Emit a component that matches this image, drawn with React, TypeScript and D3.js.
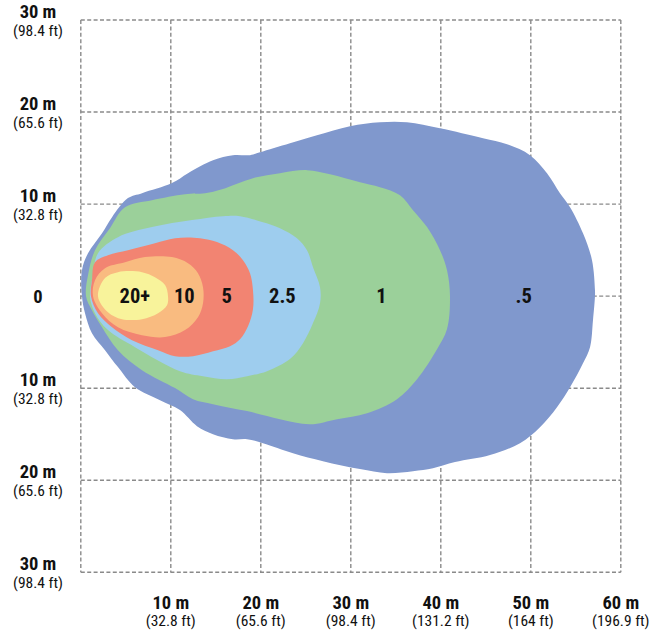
import React from "react";
import * as d3 from "d3";

// Contours: [distance (m), lateral offset (m)] around each outline
const contour05: [number, number][] = [
  [0.13, 0], [0.13, 2.82], [0.8, 4.67], [2.36, 6.84], [3.47, 8.58], [5.24, 10.65], [6.8, 11.19],
  [10.13, 12.28], [11.91, 13.36], [14.69, 14.77], [16.91, 15.32], [18.8, 15.32], [19.91, 15.64],
  [23.24, 16.62], [26.24, 17.49], [29.91, 18.47], [33.24, 18.9], [36.24, 18.9], [39.91, 18.25],
  [44.69, 17.16], [47.36, 16.51], [49.91, 15.32], [51.8, 13.36], [53.24, 11.19], [54.36, 9.67],
  [55.8, 6.84], [56.8, 3.91], [57.13, 0.65], [57.13, 0], [56.91, -2.61], [56.58, -5.54],
  [55.8, -7.28], [54.36, -9.89], [52.91, -12.06], [51.02, -14.23], [48.8, -15.97], [45.47, -17.27],
  [41.58, -18.03], [39.13, -18.69], [36.91, -19.01], [34.02, -19.23], [31.02, -18.79],
  [26.91, -17.93], [23.58, -17.06], [20.24, -15.97], [18.47, -15.54], [16.91, -15.54],
  [14.69, -14.99], [12.91, -14.12], [11.02, -12.38], [8.8, -11.3], [6.02, -9.89], [4.13, -7.71],
  [2.69, -5.87], [1.24, -4.02], [0.47, -1.85],
];
const contour1: [number, number][] = [
  [0.58, 0], [0.8, 2.28], [1.58, 5.0], [3.24, 7.39], [4.91, 9.67], [7.91, 10.43], [11.58, 11.08],
  [13.8, 11.19], [15.69, 11.62], [19.13, 12.82], [22.13, 13.36], [25.13, 13.69], [27.69, 13.25],
  [31.02, 12.38], [33.24, 11.84], [35.47, 10.97], [36.91, 9.34], [38.47, 7.5], [39.91, 5.0],
  [40.69, 2.82], [41.02, 0], [40.69, -3.58], [39.58, -5.76], [37.36, -9.02], [35.13, -11.19],
  [31.8, -12.71], [28.47, -13.36], [25.47, -13.91], [22.13, -13.36], [18.47, -12.49],
  [14.69, -11.73], [12.47, -11.19], [10.47, -9.99], [6.8, -8.04], [4.13, -5.87], [2.36, -3.37],
  [1.24, -1.52],
];
const contour25: [number, number][] = [
  [1.02, 0], [1.36, 2.28], [1.91, 4.67], [4.13, 6.41], [7.91, 7.5], [12.36, 8.26], [15.8, 8.69],
  [17.69, 8.69], [20.24, 8.04], [22.13, 7.39], [24.02, 6.3], [25.13, 5.0], [25.8, 3.15],
  [26.58, 0.98], [26.58, -0.76], [25.8, -2.93], [24.69, -5.11], [23.24, -6.84], [20.69, -8.15],
  [18.47, -8.69], [16.24, -9.02], [13.58, -8.69], [11.02, -8.15], [6.02, -5.54], [3.02, -3.69],
  [1.58, -1.85],
];
const contour5: [number, number][] = [
  [1.13, 0], [1.24, 1.74], [1.58, 3.69], [3.02, 4.45], [5.24, 5.0], [8.24, 5.76], [10.47, 6.3],
  [13.24, 6.3], [15.13, 5.87], [16.91, 5.0], [18.02, 3.91], [18.8, 2.5], [19.13, 0.65],
  [19.13, -1.41], [18.58, -3.26], [17.69, -4.67], [16.58, -5.43], [14.69, -5.98], [12.47, -6.52],
  [10.47, -6.52], [8.58, -5.87], [5.69, -4.78], [3.47, -3.37], [1.91, -1.85],
];
const contour10: [number, number][] = [
  [1.36, 0], [1.58, 1.74], [2.69, 3.04], [4.91, 3.69], [7.13, 4.24], [10.13, 4.24], [11.91, 3.58],
  [13.02, 2.5], [13.58, 0.98], [13.58, -0.76], [13.02, -2.28], [11.58, -3.69], [9.36, -4.45],
  [6.8, -4.24], [4.13, -3.37], [2.36, -1.85],
];
const contour20: [number, number][] = [
  [1.91, 0], [2.69, 1.96], [4.13, 2.61], [6.8, 2.61], [8.24, 2.06], [9.36, 1.2], [9.69, 0],
  [9.58, -0.98], [8.58, -1.85], [6.8, -2.5], [4.58, -2.5], [3.02, -1.74],
];

const zoneLabels = ["20+", "10", "5", "2.5", "1", ".5"];
const zoneLabelX = [6.0, 11.5, 16.2, 22.4, 33.4, 49.2];
const zoneColors = ["#F8F39B", "#F9BB80", "#F28472", "#9ECDEE", "#9BD09A", "#8098CD"];

const xTicks = [10, 20, 30, 40, 50, 60];
const xTickFt = ["(32.8 ft)", "(65.6 ft)", "(98.4 ft)", "(131.2 ft)", "(164 ft)", "(196.9 ft)"];
const yTicks = [30, 20, 10, -10, -20, -30];
const yTickFt = ["(98.4 ft)", "(65.6 ft)", "(32.8 ft)", "(32.8 ft)", "(65.6 ft)", "(98.4 ft)"];
const gridX = [0, 10, 20, 30, 40, 50, 60];
const gridY = [30, 20, 10, 0, -10, -20, -30];

const W = 668;
const H = 632;
const FONT = "'Liberation Sans Narrow', 'Arial Narrow', 'Roboto Condensed', 'Liberation Sans', sans-serif";

export default function App() {
  const x = d3.scaleLinear().domain([0, 60]).range([80.8, 620.8]);
  const y = d3.scaleLinear().domain([-30, 30]).range([572.3, 20]);
  const line = d3
    .line<[number, number]>()
    .x((d) => x(d[0]))
    .y((d) => y(d[1]))
    .curve(d3.curveCatmullRomClosed.alpha(0.5));

  // draw largest first
  const contours = [contour05, contour1, contour25, contour5, contour10, contour20];
  const colorsLargeFirst = [...zoneColors].reverse();

  return (
    <svg
      width={W}
      height={H}
      viewBox={`0 0 ${W} ${H}`}
      style={{ position: "absolute", left: 0, top: 0, display: "block", background: "#fff" }}
      fontFamily={FONT}
    >
      <g stroke="#8a8a8a" strokeWidth={1.4} strokeDasharray="4,2.4" fill="none">
        {gridX.map((v) => (
          <line key={"gx" + v} x1={x(v)} x2={x(v)} y1={y(30)} y2={y(-30)} />
        ))}
        {gridY.map((v) => (
          <line key={"gy" + v} x1={x(0)} x2={x(60)} y1={y(v)} y2={y(v)} />
        ))}
      </g>
      {contours.map((c, i) => (
        <path key={"c" + i} d={line(c) || ""} fill={colorsLargeFirst[i]} stroke="none" />
      ))}
      {zoneLabels.map((t, i) => (
        <text
          key={"zl" + i}
          x={x(zoneLabelX[i])}
          y={y(0) + 7}
          textAnchor="middle"
          fontWeight="bold"
          fontSize={20.5}
          fill="#111"
        >
          {t}
        </text>
      ))}
      {yTicks.map((v, i) => (
        <g key={"yt" + v}>
          <text x={38} y={y(v) - 2.5} textAnchor="middle" fontWeight="bold" fontSize={18.5} fill="#111">
            {Math.abs(v) + " m"}
          </text>
          <text x={38} y={y(v) + 15.5} textAnchor="middle" fontSize={15.5} fill="#111">
            {yTickFt[i]}
          </text>
        </g>
      ))}
      <text x={38} y={y(0) + 6.5} textAnchor="middle" fontWeight="bold" fontSize={18.5} fill="#111">
        0
      </text>
      {xTicks.map((v, i) => (
        <g key={"xt" + v}>
          <text x={x(v)} y={608.5} textAnchor="middle" fontWeight="bold" fontSize={18.5} fill="#111">
            {v + " m"}
          </text>
          <text x={x(v)} y={626} textAnchor="middle" fontSize={15.5} fill="#111">
            {xTickFt[i]}
          </text>
        </g>
      ))}
    </svg>
  );
}
